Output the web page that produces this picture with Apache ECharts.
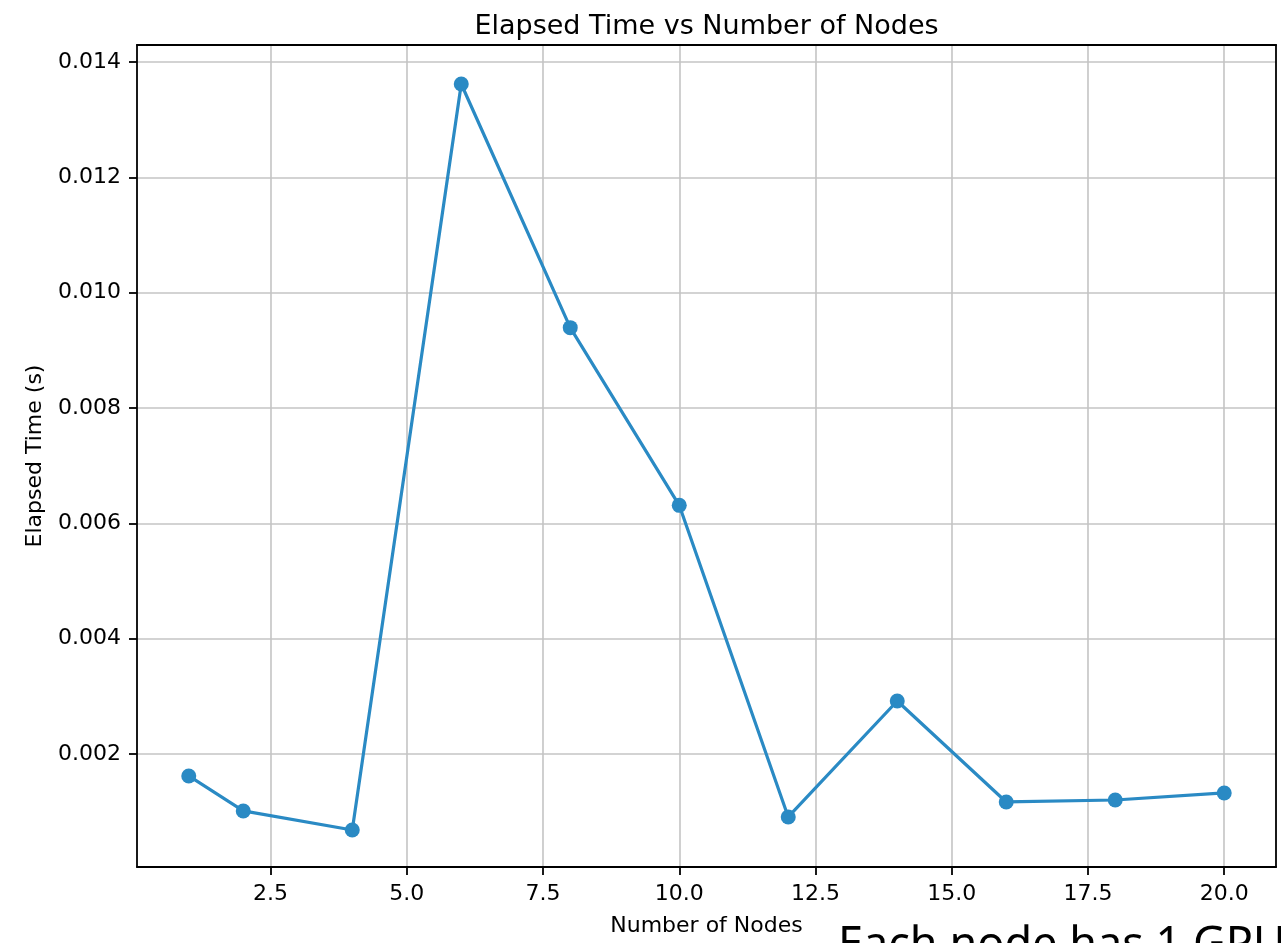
<!DOCTYPE html>
<html>
<head>
<meta charset="utf-8">
<script src="https://cdn.jsdelivr.net/npm/echarts@6/dist/echarts.min.js"></script>
<style>
html,body{margin:0;padding:0;background:#fff;}
#chart{width:1281px;height:943px;}
</style>
</head>
<body>
<div id="chart"></div>
<script>
const nodes = [1, 2, 4, 6, 8, 10, 12, 14, 16, 18, 20];
const elapsed = [0.001619, 0.001012, 0.000682, 0.013619, 0.009393, 0.006312, 0.000908, 0.002919, 0.001168, 0.001202, 0.001324];
const xTicks = [2.5, 5.0, 7.5, 10.0, 12.5, 15.0, 17.5, 20.0];
const yTicks = [0.002, 0.004, 0.006, 0.008, 0.010, 0.012, 0.014];

const FONT = 'DejaVu Sans';
const chart = echarts.init(document.getElementById('chart'), null, {renderer: 'canvas'});
const data = nodes.map((n, i) => [n, elapsed[i]]);

chart.setOption({
  animation: false,
  backgroundColor: '#ffffff',
  title: {
    text: 'Elapsed Time vs Number of Nodes',
    left: 701.5,
    textAlign: 'center',
    top: 8,
    textStyle: {fontFamily: FONT, fontSize: 27, fontWeight: 'normal', color: '#000'}
  },
  grid: {left: 137, right: 5, top: 45, bottom: 76, containLabel: false},
  xAxis: [{
    type: 'value',
    min: 0.05, max: 20.95,
    position: 'bottom',
    name: 'Number of Nodes',
    nameLocation: 'middle',
    nameGap: 48,
    nameTextStyle: {fontFamily: FONT, fontSize: 22, color: '#000', verticalAlign: 'top'},
    axisLine: {show: true, onZero: false, lineStyle: {color: '#000', width: 1.8}},
    axisTick: {show: true, inside: false, length: 8, lineStyle: {color: '#000', width: 1.8}, customValues: xTicks},
    axisLabel: {show: true, margin: 16, fontFamily: FONT, fontSize: 22, color: '#000',
      customValues: xTicks, formatter: v => v.toFixed(1)},
    splitLine: {show: true, lineStyle: {color: '#c4c4c4', width: 1.6}}
  }, {
    type: 'value',
    min: 0.05, max: 20.95,
    position: 'top',
    axisLine: {show: true, onZero: false, lineStyle: {color: '#000', width: 1.8}},
    axisTick: {show: false}, axisLabel: {show: false}, splitLine: {show: false}
  }],
  yAxis: [{
    type: 'value',
    min: 0.00004, max: 0.014295,
    position: 'left',
    name: 'Elapsed Time (s)',
    nameLocation: 'middle',
    nameGap: 91,
    nameTextStyle: {fontFamily: FONT, fontSize: 22, color: '#000'},
    axisLine: {show: true, onZero: false, lineStyle: {color: '#000', width: 1.8}},
    axisTick: {show: true, inside: false, length: 8, lineStyle: {color: '#000', width: 1.8}, customValues: yTicks},
    axisLabel: {show: true, margin: 16, fontFamily: FONT, fontSize: 22, color: '#000',
      customValues: yTicks, formatter: v => v.toFixed(3)},
    splitLine: {show: true, lineStyle: {color: '#c4c4c4', width: 1.6}}
  }, {
    type: 'value',
    min: 0.00004, max: 0.014295,
    position: 'right',
    axisLine: {show: true, onZero: false, lineStyle: {color: '#000', width: 1.8}},
    axisTick: {show: false}, axisLabel: {show: false}, splitLine: {show: false}
  }],
  series: [{
    type: 'line',
    data: data,
    xAxisIndex: 0, yAxisIndex: 0,
    symbol: 'circle',
    symbolSize: 15,
    showAllSymbol: true,
    lineStyle: {color: '#2a8ac4', width: 3.2},
    itemStyle: {color: '#2a8ac4'},
    emphasis: {disabled: true},
    z: 5
  }],
  graphic: [{
    type: 'text',
    left: 838,
    top: 924,
    style: {text: 'Each node has 1 GPU', font: '45px "Noto Sans"', fill: '#000'}
  }]
});
</script>
</body>
</html>
